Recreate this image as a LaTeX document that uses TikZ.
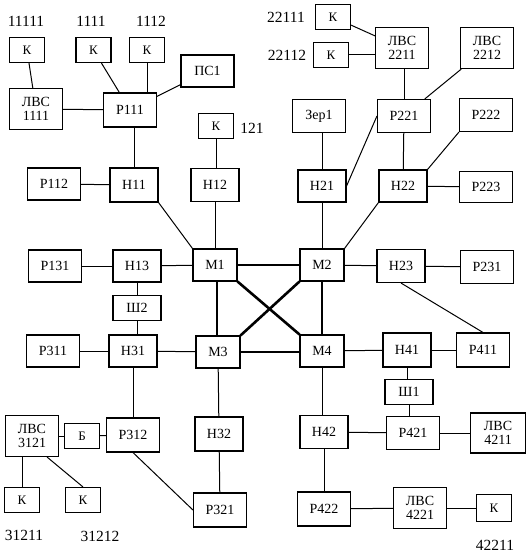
\documentclass[tikz,border=0pt]{standalone}
\usepackage{fontspec}
\setmainfont{Liberation Serif}
\begin{document}
\begin{tikzpicture}[x=1pt,y=-1pt,
  box/.style={draw, line width=1.1pt, inner sep=0pt, minimum width=53pt, minimum height=33pt, font=\fontsize{14}{15}\selectfont, align=center},
  kbox/.style={box, minimum width=35pt, minimum height=25pt, font=\fontsize{13}{14}\selectfont},
  lbox/.style={box, minimum height=41pt, font=\fontsize{14}{14}\selectfont},
  nbox/.style={box, minimum width=48pt},
  mbox/.style={box, minimum width=44pt, minimum height=32pt},
  shbox/.style={box, minimum width=48pt, minimum height=25pt},
  lab/.style={inner sep=0pt, font=\fontsize{15.5}{16}\selectfont},
  ln/.style={line width=1pt},
  thick line/.style={line width=2.6pt}]
\useasboundingbox (0,0) rectangle (531,553);
% nodes
\node[kbox] (k11111) at (27,50) {К};
\node[kbox] (k1111) at (93.5,50) {К};
\node[kbox] (k1112) at (147,50) {К};
\node[box, minimum height=32pt] (ps1) at (207.5,71) {ПС1};
\node[lbox] (lvs1111) at (36,109) {ЛВС\\1111};
\node[box, minimum height=34pt] (r111) at (130,110) {Р111};
\node[kbox] (k121) at (216,126) {К};
\node[box, minimum height=32pt] (r112) at (54,184) {Р112};
\node[nbox, minimum height=34pt] (n11) at (134,185) {Н11};
\node[nbox] (n12) at (215,185) {Н12};
\node[kbox] (k22111) at (333,17) {К};
\node[kbox] (k22112) at (331,55) {К};
\node[lbox] (lvs2211) at (402,48) {ЛВС\\2211};
\node[lbox] (lvs2212) at (487,48) {ЛВС\\2212};
\node[box] (zer1) at (319,116) {Зер1};
\node[box] (r221) at (404,116) {Р221};
\node[box] (r222) at (486,115) {Р222};
\node[nbox, minimum height=32pt] (n21) at (322,186) {Н21};
\node[nbox, minimum height=32pt] (n22) at (403,186) {Н22};
\node[box, minimum height=31pt] (r223) at (486,187) {Р223};
\node[box, minimum height=32pt] (r131) at (55,266) {Р131};
\node[nbox, minimum height=32pt] (n13) at (137,266) {Н13};
\node[mbox] (m1) at (215,265) {М1};
\node[shbox] (sh2) at (137,308) {Ш2};
\node[box, minimum height=32pt] (r311) at (53,351) {Р311};
\node[nbox, minimum height=32pt] (n31) at (133,351) {Н31};
\node[mbox] (m3) at (218,352) {М3};
\node[mbox] (m2) at (322,265) {М2};
\node[nbox] (n23) at (401,266) {Н23};
\node[box] (r231) at (487,267) {Р231};
\node[mbox] (m4) at (322,351) {М4};
\node[nbox, minimum height=34pt] (n41) at (407,350) {Н41};
\node[box, minimum height=34pt] (r411) at (483,350) {Р411};
\node[shbox] (sh1) at (409,392) {Ш1};
\node[lbox] (lvs3121) at (32,436) {ЛВС\\3121};
\node[kbox] (b) at (82,436) {Б};
\node[box, minimum height=34pt] (r312) at (133,435) {Р312};
\node[nbox, minimum height=34pt] (n32) at (219,434) {Н32};
\node[kbox] (k31211) at (22,500) {К};
\node[kbox] (k31212) at (83,500) {К};
\node[box, minimum height=34pt] (r321) at (220,510) {Р321};
\node[nbox] (n42) at (324,432) {Н42};
\node[box] (r421) at (413,433) {Р421};
\node[lbox, minimum width=55pt, minimum height=40pt] (lvs4211) at (498,433) {ЛВС\\4211};
\node[box, minimum height=34pt] (r422) at (324,509) {Р422};
\node[lbox] (lvs4221) at (420,508) {ЛВС\\4221};
\node[kbox, minimum height=27pt] (k42211) at (494,508) {К};
% labels
\node[lab] (t11111) at (26,21) {11111};
\node[lab] (t1111) at (91,21) {1111};
\node[lab] (t1112) at (151,21) {1112};
\node[lab] (t121) at (252,128) {121};
\node[lab] (t22111) at (286,17) {22111};
\node[lab] (t22112) at (287,55) {22112};
\node[lab] (t31211) at (24,535) {31211};
\node[lab] (t31212) at (100,536) {31212};
\node[lab] (t42211) at (495,545) {42211};
% thin connectors
\draw[ln] (k11111) -- (lvs1111);
\draw[ln] (k1111) -- (r111);
\draw[ln] (k1112) -- (k1112 |- r111.north);
\draw[ln] (ps1) -- (r111);
\draw[ln] (lvs1111) -- (r111);
\draw[ln] (n11.north) -- (n11.north |- r111.south);
\draw[ln] (r112) -- (n11);
\draw[ln] (k121.south) -- (k121.south |- n12.north);
\draw[ln] (n11.south east) -- (m1.north west);
\draw[ln] (n12) -- (m1);
\draw[ln] (k22111) -- (lvs2211);
\draw[ln] (k22112) -- (k22112 -| lvs2211.west);
\draw[ln] (r221.north) -- (r221.north |- lvs2211.south);
\draw[ln] (lvs2212) -- (r221);
\draw[ln] (zer1.south -| n21.north) -- (n21.north);
\draw[ln] (r221.west) -- (n21.east);
\draw[ln] (r221) -- (n22);
\draw[ln] (r222.south west) -- (n22.north east);
\draw[ln] (n22) -- (r223);
\draw[ln] (n21) -- (m2);
\draw[ln] (n22.south west) -- (m2.north east);
\draw[ln] (r131) -- (n13);
\draw[ln] (n13) -- (m1);
\draw[ln] (sh2.north) -- (sh2.north |- n13.south);
\draw[ln] (sh2.south) -- (sh2.south |- n31.north);
\draw[ln] (r311) -- (n31);
\draw[ln] (n31) -- (m3);
\draw[ln] (m2) -- (n23);
\draw[ln] (n23) -- (r231);
\draw[ln] (n23.south) -- (r411.north);
\draw[ln] (m4) -- (n41);
\draw[ln] (n41) -- (r411);
\draw[ln] (n41.south) -- (n41.south |- sh1.north);
\draw[ln] (sh1.south) -- (sh1.south |- r421.north);
\draw[ln] (m4.south) -- (m4.south |- n42.north);
\draw[ln] (n42) -- (r421);
\draw[ln] (r421) -- (lvs4211);
\draw[ln] (n42) -- (r422);
\draw[ln] (r422) -- (lvs4221);
\draw[ln] (lvs4221) -- (k42211);
\draw[ln] (r312.north) -- (r312.north |- n31.south);
\draw[ln] (m3) -- (n32);
\draw[ln] (n32) -- (r321);
\draw[ln] (lvs3121) -- (b);
\draw[ln] (b) -- (r312);
\draw[ln] (k31211.north) -- (k31211.north |- lvs3121.south);
\draw[ln] (lvs3121.south east) ++(-12,0) coordinate (c1) -- (k31212.north);
\draw[ln] (r312.south) -- (r321.west);
% backbone
\draw[thick line] (m1) -- (m2);
\draw[thick line] (m1.south) ++(2,0) coordinate (c2) -- (c2 |- m3.north);
\draw[thick line] (m2) -- (m4);
\draw[thick line] (m3) -- (m3 -| m4.west);
\draw[thick line] (m1.south east) -- (m4.north west);
\draw[thick line] (m3.north east) -- (m2.south west);
\end{tikzpicture}
\end{document}
